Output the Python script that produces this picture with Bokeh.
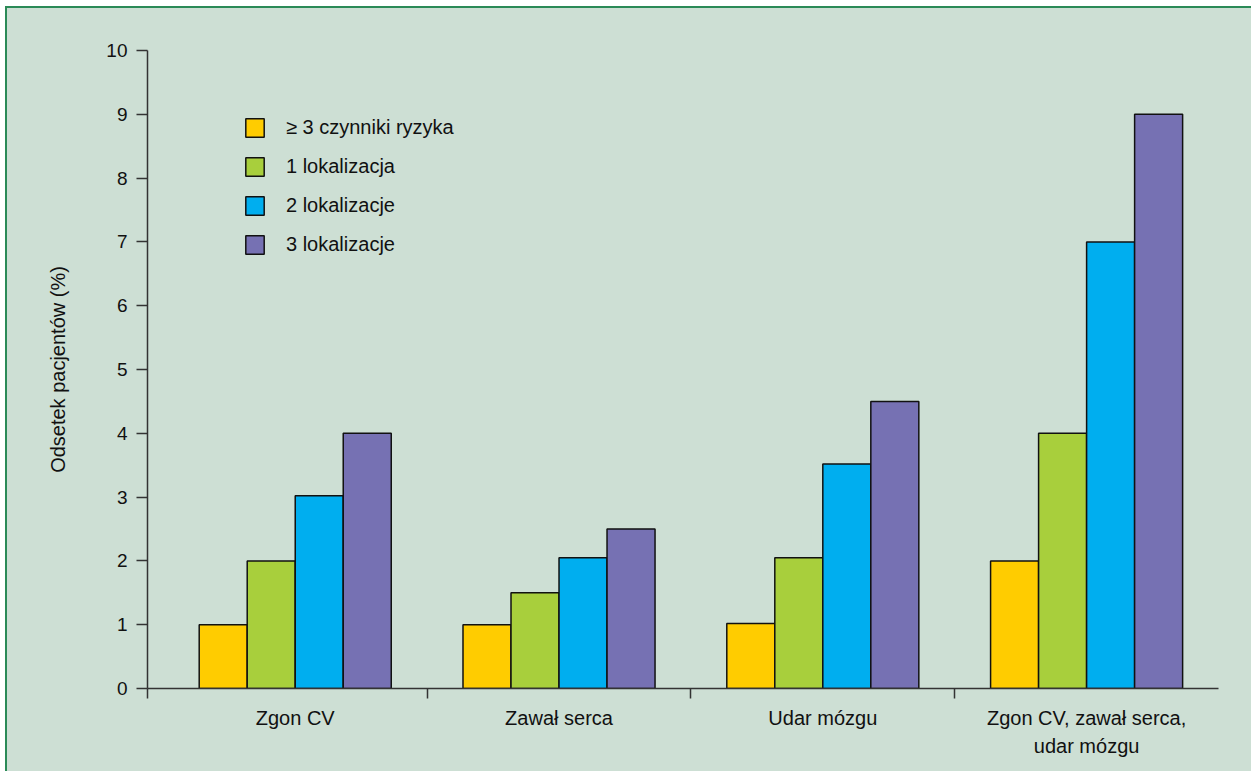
from bokeh.plotting import figure
from bokeh.models import ColumnDataSource, FixedTicker, Legend, LegendItem, Range1d
from bokeh.embed import file_html
from bokeh.resources import INLINE

categories = ["Zgon CV", "Zawał serca", "Udar mózgu", "Zgon CV, zawał serca,\nudar mózgu"]
series_names = ["≥ 3 czynniki ryzyka", "1 lokalizacja", "2 lokalizacje", "3 lokalizacje"]
risk3 = [1.0, 1.0, 1.02, 2.0]
loc1 = [2.0, 1.5, 2.05, 4.0]
loc2 = [3.02, 2.05, 3.52, 7.0]
loc3 = [4.0, 2.5, 4.5, 9.0]
colors = ["#ffcc00", "#a8cf3c", "#00aeef", "#7671b3"]
y_ticks = list(range(0, 11))

series = [risk3, loc1, loc2, loc3]
FONT = "Liberation Sans"
BG = "#cddfd4"

x_start = -0.06
p = figure(width=1246, height=765, output_backend="svg", toolbar_location=None,
           x_range=Range1d(x_start, 4.0), y_range=Range1d(0, 10),
           min_border_left=140, min_border_right=35, min_border_top=42, min_border_bottom=85,
           background_fill_color=BG, background_fill_alpha=0,
           border_fill_color=BG, border_fill_alpha=0,
           outline_line_color=None,
           margin=(6, 0, 0, 5),
           styles={"border-left": "2px solid #2b8a57", "border-top": "2px solid #2b8a57",
                   "background-color": BG})
p.grid.visible = False

bw = 0.182
centers = [i + 0.5 for i in range(len(categories))]
items = []
for k, (vals, col, name) in enumerate(zip(series, colors, series_names)):
    xs = [c + (k - 1.5) * bw for c in centers]
    src = ColumnDataSource(dict(x=xs, top=vals))
    r = p.vbar(x="x", top="top", bottom=0, width=bw, source=src, fill_color=col,
               line_color="#111111", line_width=1.5)
    items.append(LegendItem(label=name, renderers=[r]))

legend = Legend(items=items, location=(96, 432), glyph_width=23, glyph_height=23,
                label_height=23, spacing=16, padding=0, margin=0, label_standoff=20,
                border_line_color=None, background_fill_alpha=0,
                label_text_font=FONT, label_text_font_size="20px", label_text_color="#111111")
p.add_layout(legend, "center")

# x axis
xa = p.xaxis[0]
xa.ticker = FixedTicker(ticks=centers, minor_ticks=[x_start + 0.001, 1, 2, 3])
xa.major_label_overrides = {c: lab for c, lab in zip(centers, categories)}
xa.major_tick_out = 0
xa.major_tick_in = 0
xa.minor_tick_out = 10
xa.minor_tick_in = 0
xa.minor_tick_line_color = "#333333"
xa.minor_tick_line_width = 1.5
xa.axis_line_color = "#333333"
xa.axis_line_width = 1.5
xa.major_label_standoff = 8
xa.major_label_text_font = FONT
xa.major_label_text_font_size = "20px"
xa.major_label_text_line_height = 1.3
xa.major_label_text_color = "#111111"

ya = p.yaxis[0]
ya.ticker = FixedTicker(ticks=y_ticks, minor_ticks=[])
ya.major_tick_out = 11
ya.major_tick_in = 0
ya.major_tick_line_color = "#333333"
ya.major_tick_line_width = 1.5
ya.axis_line_color = "#333333"
ya.axis_line_width = 1.5
ya.major_label_standoff = 9
ya.major_label_text_font = FONT
ya.major_label_text_font_size = "19px"
ya.major_label_text_color = "#111111"
ya.axis_label = "Odsetek pacjentów (%)"
ya.axis_label_text_font = FONT
ya.axis_label_text_font_size = "20px"
ya.axis_label_text_font_style = "normal"
ya.axis_label_text_color = "#111111"
ya.axis_label_standoff = 34

open("out.html", "w").write(file_html(p, INLINE))
